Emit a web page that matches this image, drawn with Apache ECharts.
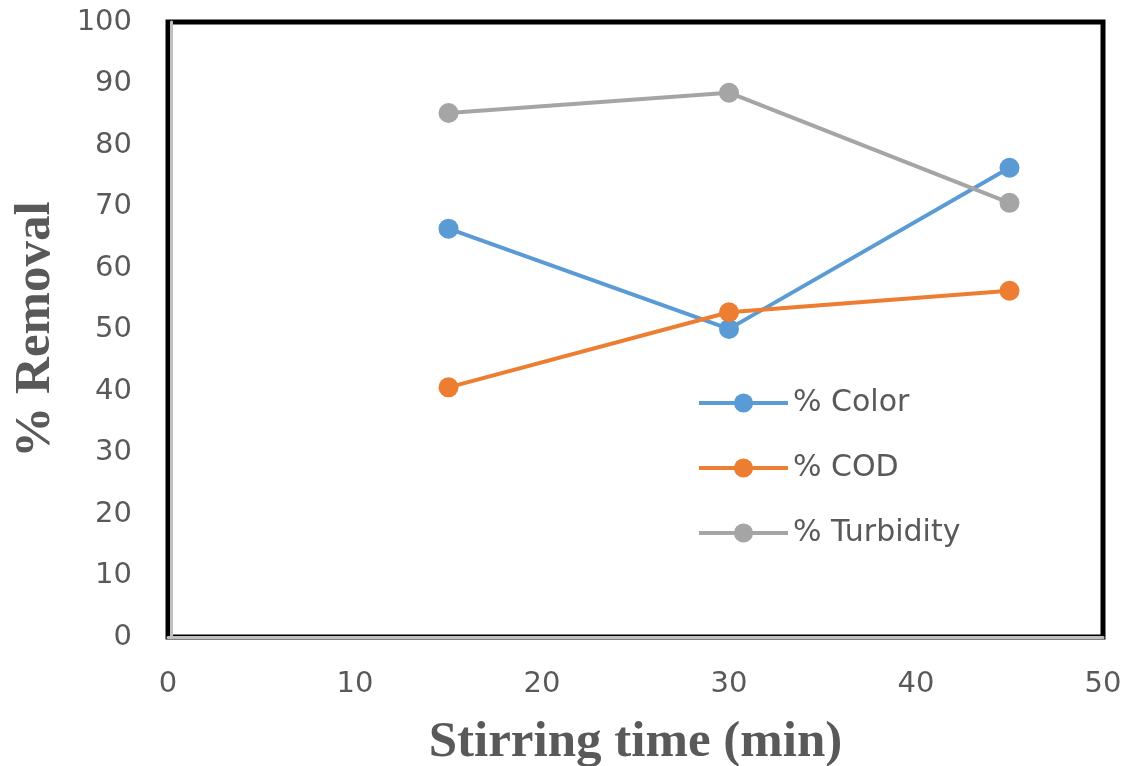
<!DOCTYPE html>
<html>
<head>
<meta charset="utf-8">
<script src="https://cdn.jsdelivr.net/npm/echarts@6/dist/echarts.min.js"></script>
<style>html,body{margin:0;padding:0;background:#fff}#c{width:1127px;height:766px}</style>
</head>
<body>
<div id="c"></div>
<script>
const times = [15, 30, 45];
const colorRemoval = [66.4, 50.1, 76.3];
const codRemoval = [40.6, 52.8, 56.3];
const turbidityRemoval = [85.2, 88.5, 70.6];
const seriesNames = ['% Color', '% COD', '% Turbidity'];
const seriesColors = ['#5B9BD5', '#ED7D31', '#A5A5A5'];

const chart = echarts.init(document.getElementById('c'));
const mk = (name, vals, col) => ({
  name: name,
  type: 'line',
  data: times.map((t, i) => [t, vals[i]]),
  symbol: 'circle',
  symbolSize: 20,
  lineStyle: {color: col, width: 4},
  itemStyle: {color: col},
  animation: false
});
chart.setOption({
  backgroundColor: '#fff',
  animation: false,
  grid: {left: 168, top: 22, right: 24, bottom: 129, show: true, borderColor: '#000', borderWidth: 5, backgroundColor: 'transparent', containLabel: false, outerBoundsMode: 'none'},
  legend: {
    orient: 'vertical', left: 692, top: 383, itemGap: 35, itemWidth: 89, itemHeight: 24,
    lineStyle: {width: 4},
    textStyle: {fontFamily: 'DejaVu Sans, sans-serif', fontSize: 30, color: '#595959'},
    data: seriesNames
  },
  xAxis: {
    type: 'value', min: 0, max: 50, interval: 10,
    offset: 3,
    axisLine: {show: true, lineStyle: {color: '#BFBFBF', width: 3}},
    axisTick: {show: false},
    splitLine: {show: false},
    axisLabel: {fontFamily: 'DejaVu Sans, sans-serif', fontSize: 29, color: '#595959', margin: 30},
    name: 'Stirring time (min)', nameLocation: 'middle', nameGap: 77,
    nameTextStyle: {fontFamily: 'Liberation Serif, Times New Roman, serif', fontWeight: 'bold', fontSize: 51, color: '#595959'}
  },
  yAxis: {
    type: 'value', min: 0, max: 100, interval: 10,
    offset: -3,
    axisLine: {show: true, lineStyle: {color: '#BFBFBF', width: 3}},
    axisTick: {show: false},
    splitLine: {show: false},
    axisLabel: {fontFamily: 'DejaVu Sans, sans-serif', fontSize: 29, color: '#595959', margin: 39},
    name: '% Removal', nameLocation: 'middle', nameGap: 110,
    nameTextStyle: {fontFamily: 'Liberation Serif, Times New Roman, serif', fontWeight: 'bold', fontSize: 51, color: '#595959'}
  },
  series: [
    mk(seriesNames[0], colorRemoval, seriesColors[0]),
    mk(seriesNames[1], codRemoval, seriesColors[1]),
    mk(seriesNames[2], turbidityRemoval, seriesColors[2])
  ]
});
</script>
</body>
</html>
